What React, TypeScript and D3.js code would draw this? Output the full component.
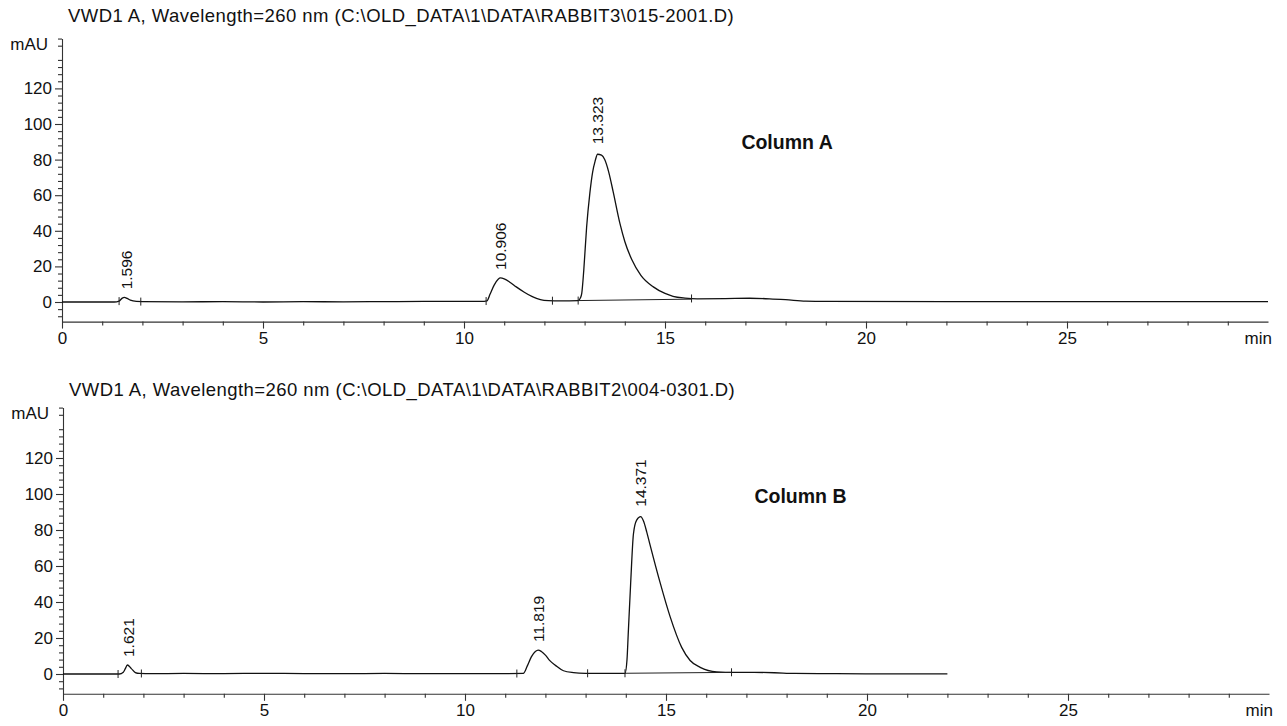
import React, { useEffect, useRef } from 'react';
import * as d3 from 'd3';

// chromatogram A (rabbit 3, column A) - time in min, absorbance in mAU
const timeA = [0, 1.3, 1.42, 1.5, 1.55, 1.62, 1.7, 1.85, 2.0, 3.0, 4.0, 5.0, 6.0, 7.0, 8.0, 9.0, 10.0, 10.5,
  10.57, 10.65, 10.75, 10.85, 10.906, 11.0, 11.15, 11.3, 11.5, 11.7, 11.9, 12.1, 12.4, 12.84, 12.9, 12.93, 12.98,
  13.05, 13.13, 13.2, 13.26, 13.323, 13.42, 13.5, 13.6, 13.71, 13.88, 14.0, 14.17, 14.4, 14.71, 15.0, 15.2, 15.5,
  15.8, 16.5, 17.1, 17.6, 18.0, 18.5, 19.0, 22.0, 26.0, 30.0];
const absA = [0, 0, 0.5, 2.2, 2.6, 2.0, 1.0, 0.3, 0.2, 0.1, 0.2, 0.0, 0.2, 0.1, 0.2, 0.3, 0.3, 0.4,
  0.6, 4.5, 9.5, 12.8, 13.5, 13.0, 11.0, 8.5, 5.5, 3.0, 1.4, 0.8, 0.6, 0.8, 2.5, 5, 18,
  42, 61, 73, 79, 83, 82.5, 80, 73, 62, 44, 34, 24, 15, 8.5, 4.8, 3.2, 2.2,
  1.8, 1.9, 2.1, 1.8, 1.3, 0.5, 0.3, 0.2, 0.2, 0.2];

// chromatogram B (rabbit 2, column B), recorded to 22 min
const timeB = [0, 1.4, 1.5, 1.55, 1.6, 1.7, 1.8, 1.9, 2.2, 3.0, 4.0, 5.0, 6.0, 7.0, 8.0, 9.0, 10.0, 11.0,
  11.45, 11.55, 11.65, 11.75, 11.819, 11.9, 12.0, 12.11, 12.25, 12.45, 12.7, 13.0, 13.5, 13.98, 14.03, 14.06,
  14.12, 14.19, 14.27, 14.371, 14.44, 14.52, 14.6, 14.85, 15.1, 15.39, 15.6, 15.85, 16.26, 16.7, 17.2, 17.7, 18.2,
  19.0, 20.0, 21.0, 22.0];
const absB = [0, 0, 1.0, 3.0, 5.0, 3.0, 0.8, 0.3, 0.2, 0.3, 0.2, 0.4, 0.2, 0.2, 0.3, 0.2, 0.2, 0.2,
  0.3, 4.5, 9.5, 12.5, 13.3, 12.5, 10.5, 7.4, 4.8, 1.8, 0.8, 0.4, 0.3, 0.4, 8, 22,
  50, 77.8, 85.5, 87.4, 85, 79, 72, 51, 32, 14.8, 7.5, 3.7, 1.2, 0.9, 0.9, 0.7, 0.3,
  0.2, 0.1, 0.1, 0.1];

// retention time labels
const peaksA = ['1.596', '10.906', '13.323'];
const peaksB = ['1.621', '11.819', '14.371'];

// integration event marks and the drawn baseline under the main peak
const eventsA = [1.42, 1.96, 10.55, 12.2, 12.84, 15.66];
const eventsB = [1.37, 1.95, 11.29, 13.05, 13.98, 16.63];
const baseTimeA = [12.84, 15.66];
const baseAbsA = [0.8, 1.6];
const baseTimeB = [13.98, 16.63];
const baseAbsB = [0.4, 0.9];

const xMajor = [0, 5, 10, 15, 20, 25];
const xMinor = d3.range(1, 30).filter(d => d % 5 !== 0);
const yMajor = [0, 20, 40, 60, 80, 100, 120];
const yMinor = d3.range(-8, 149, 4).filter(d => d % 20 !== 0);

const titleA = 'VWD1 A, Wavelength=260 nm (C:\\OLD_DATA\\1\\DATA\\RABBIT3\\015-2001.D)';
const titleB = 'VWD1 A, Wavelength=260 nm (C:\\OLD_DATA\\1\\DATA\\RABBIT2\\004-0301.D)';

const FONT = '"Liberation Sans", Arial, Helvetica, sans-serif';

const App = () => {
  const ref = useRef(null);

  useEffect(() => {
    const svg = d3.select(ref.current);
    svg.selectAll('*').remove();

    const panels = [
      { title: titleA, name: 'Column A', nameAt: [16.9, 86], time: timeA, abs: absA, peaks: peaksA,
        events: eventsA, baseT: baseTimeA, baseV: baseAbsA, x0: 62, x1: 1268, zero: 302, k: 1.78, titleY: 22 },
      { title: titleB, name: 'Column B', nameAt: [17.2, 95], time: timeB, abs: absB, peaks: peaksB,
        events: eventsB, baseT: baseTimeB, baseV: baseAbsB, x0: 63, x1: 1269, zero: 674, k: 1.8, titleY: 396 },
    ];

    const yMin = -11;
    const yMax = 148;

    panels.forEach(p => {
      const g = svg.append('g');

      const x = d3.scaleLinear().domain([0, 30]).range([p.x0, p.x1]);
      const y = d3.scaleLinear().domain([yMin, yMax]).range([p.zero - yMin * p.k, p.zero - yMax * p.k]);

      // title
      g.append('text')
        .attr('x', p.x0 + 6)
        .attr('y', p.titleY)
        .attr('font-size', 18.5)
        .attr('letter-spacing', 0.45)
        .attr('font-family', FONT)
        .attr('fill', '#111')
        .text(p.title);

      // x axis (minor then major)
      g.append('g')
        .attr('transform', `translate(0,${y(yMin)})`)
        .call(d3.axisBottom(x).tickValues(xMinor).tickSize(4).tickFormat(() => ''))
        .call(s => s.select('.domain').remove());

      const xAxis = g.append('g')
        .attr('transform', `translate(0,${y(yMin)})`)
        .call(d3.axisBottom(x).tickValues(xMajor).tickSize(7).tickSizeOuter(0).tickPadding(3));
      xAxis.selectAll('text').attr('font-size', 17).attr('font-family', FONT).attr('fill', '#111');

      g.append('text')
        .attr('x', p.x1 + 4)
        .attr('y', y(yMin) + 22)
        .attr('text-anchor', 'end')
        .attr('font-size', 17)
        .attr('font-family', FONT)
        .attr('fill', '#111')
        .text('min');

      // y axis
      g.append('g')
        .attr('transform', `translate(${p.x0},0)`)
        .call(d3.axisLeft(y).tickValues(yMinor).tickSize(4).tickFormat(() => ''))
        .call(s => s.select('.domain').remove());

      const yAxis = g.append('g')
        .attr('transform', `translate(${p.x0},0)`)
        .call(d3.axisLeft(y).tickValues(yMajor).tickSize(7).tickSizeOuter(0).tickPadding(3));
      yAxis.selectAll('text').attr('font-size', 17).attr('font-family', FONT).attr('fill', '#111');

      g.append('text')
        .attr('x', p.x0 - 14)
        .attr('y', y(yMax) + 11)
        .attr('text-anchor', 'end')
        .attr('font-size', 17)
        .attr('font-family', FONT)
        .attr('fill', '#111')
        .text('mAU');

      g.selectAll('.domain, .tick line').attr('stroke', '#333').attr('stroke-width', 1.1);

      // trace
      const pts = p.time.map((t, i) => [t, p.abs[i]]);
      const line = d3.line()
        .x(d => x(d[0]))
        .y(d => y(d[1]))
        .curve(d3.curveMonotoneX);

      g.append('path')
        .datum(pts)
        .attr('fill', 'none')
        .attr('stroke', '#111')
        .attr('stroke-width', 1.3)
        .attr('d', line);

      // integration baseline
      g.append('path')
        .datum(p.baseT.map((t, i) => [t, p.baseV[i]]))
        .attr('fill', 'none')
        .attr('stroke', '#222')
        .attr('stroke-width', 1)
        .attr('d', d3.line().x(d => x(d[0])).y(d => y(d[1])));

      // event marks sit on the trace
      const at = d3.scaleLinear().domain(p.time).range(p.abs);
      g.selectAll('.ev')
        .data(p.events)
        .enter().append('line')
        .attr('x1', d => x(d)).attr('x2', d => x(d))
        .attr('y1', d => y(at(d)) - 4).attr('y2', d => y(at(d)) + 4)
        .attr('stroke', '#222')
        .attr('stroke-width', 1);

      // peak labels, rotated, above the apex
      p.peaks.forEach(lbl => {
        const t = +lbl;
        const apex = d3.max(pts.filter(d => Math.abs(d[0] - t) <= 0.15), d => d[1]);
        const px = x(t);
        const py = y(apex) - (apex > 50 ? 10 : 8);
        g.append('text')
          .attr('transform', `translate(${px},${py}) rotate(-90)`)
          .attr('dominant-baseline', 'central')
          .attr('font-size', 15.5)
          .attr('font-family', FONT)
          .attr('fill', '#111')
          .text(lbl);
      });

      g.append('text')
        .attr('x', x(p.nameAt[0]))
        .attr('y', y(p.nameAt[1]))
        .attr('font-size', 19.5)
        .attr('font-weight', 'bold')
        .attr('font-family', FONT)
        .attr('fill', '#111')
        .text(p.name);
    });
  }, []);

  return (
    <svg ref={ref} width={1287} height={726}
      style={{ position: 'absolute', left: 0, top: 0, background: '#fff' }} />
  );
};

export default App;
